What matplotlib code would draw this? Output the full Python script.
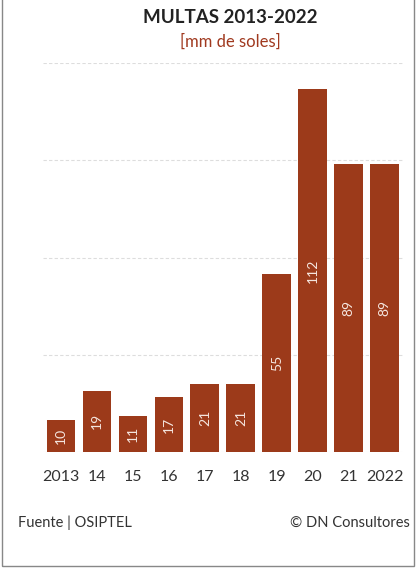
import matplotlib.pyplot as plt
from matplotlib.patches import Rectangle

# Multas OSIPTEL, millones de soles
years = ['2013', '14', '15', '16', '17', '18', '19', '20', '21', '2022']
fines = [10, 19, 11, 17, 21, 21, 55, 112, 89, 89]

bar_color = '#9c3a1a'
plt.rcParams['font.family'] = ['Lato', 'DejaVu Sans']

fig = plt.figure(figsize=(4.17, 5.68), dpi=100)
ax = fig.add_axes([0.103, 0.204, 0.863, 0.685])

x = range(len(years))
bars = ax.bar(x, fines, width=0.8, color=bar_color, zorder=3)

# value labels, rotated, centred in each bar
for xi, v in zip(x, fines):
    ax.text(xi, v / 2, str(v), rotation=90, ha='center', va='center',
            color='#f5e6df', fontsize=10, zorder=4)

ax.set_xlim(-0.5, len(years) - 0.5)
ax.set_ylim(0, 120)
ax.set_yticks([0, 30, 60, 90, 120])
ax.yaxis.grid(True, linestyle=(0, (3, 2)), color='#dddddd', linewidth=0.8, zorder=0)
ax.tick_params(axis='y', left=False, labelleft=False)
ax.set_xticks(list(x))
ax.set_xticklabels(years, fontsize=11.5, color='#333333')
ax.tick_params(axis='x', length=0, pad=13)
for s in ax.spines.values():
    s.set_visible(False)

fig.text(0.553, 0.970, 'MULTAS 2013-2022', ha='center', va='center',
         fontsize=13.5, fontweight='bold', color='#222222')
fig.text(0.553, 0.926, '[mm de soles]', ha='center', va='center',
         fontsize=12, color='#a0391f')

fig.text(0.043, 0.079, 'Fuente | OSIPTEL', ha='left', va='center',
         fontsize=10.5, color='#333333')
fig.text(0.982, 0.079, '© DN Consultores', ha='right', va='center',
         fontsize=10.5, color='#333333')

# frame around the figure
fig.patches.append(Rectangle((0.005, 0.003), 0.987, 1.1, transform=fig.transFigure,
                             fill=False, edgecolor='#888888', linewidth=1))

fig.savefig('out.png', dpi=100)
